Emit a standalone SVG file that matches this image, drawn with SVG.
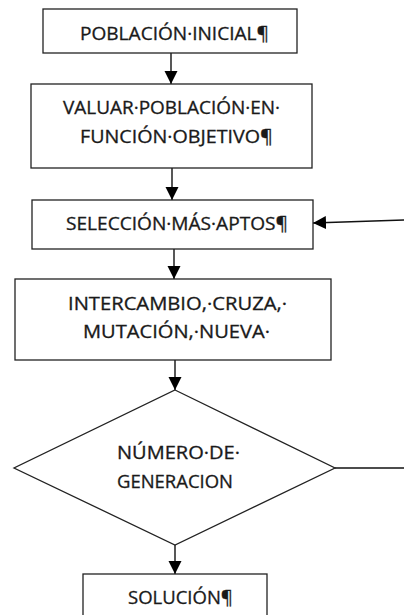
<svg xmlns="http://www.w3.org/2000/svg" width="404" height="615" viewBox="0 0 404 615">
<style>
.box{fill:#fff;stroke:#222;stroke-width:1.3}
.t{font-family:"Open Sans","Liberation Sans",sans-serif;font-size:17.5px;fill:#1a1a1a;stroke:#1a1a1a;stroke-width:0.3}
.c{fill:none;stroke:#111;stroke-width:1.4}
</style>
<defs>
<marker id="ah" markerUnits="userSpaceOnUse" markerWidth="14" markerHeight="14" refX="13" refY="6.5" orient="auto">
<path d="M0,0 L13,6.5 L0,13 Z" fill="#000"/>
</marker>
</defs>
<rect width="404" height="615" fill="#fff"/>
<g id="connectors">
<line class="c" x1="171" y1="53" x2="171" y2="84" marker-end="url(#ah)"/>
<line class="c" x1="172" y1="168" x2="172" y2="200" marker-end="url(#ah)"/>
<line class="c" x1="174" y1="249" x2="174" y2="279" marker-end="url(#ah)"/>
<line class="c" x1="175" y1="360" x2="175" y2="390" marker-end="url(#ah)"/>
<line class="c" x1="175" y1="545" x2="175" y2="574" marker-end="url(#ah)"/>
<line class="c" x1="335" y1="468" x2="404" y2="468"/>
<line class="c" x1="404" y1="220" x2="313" y2="223" marker-end="url(#ah)"/>
</g>
<g id="n1">
<rect class="box" x="43" y="9" width="254" height="44"/>
<text class="t" x="80" y="40" textLength="189" lengthAdjust="spacingAndGlyphs">POBLACIÓN·INICIAL¶</text>
</g>
<g id="n2">
<rect class="box" x="31" y="84" width="281" height="84"/>
<text class="t" x="63" y="114" textLength="217" lengthAdjust="spacingAndGlyphs">VALUAR·POBLACIÓN·EN·</text>
<text class="t" x="80" y="143" textLength="193" lengthAdjust="spacingAndGlyphs">FUNCIÓN·OBJETIVO¶</text>
</g>
<g id="n3">
<rect class="box" x="32" y="200" width="281" height="49"/>
<text class="t" x="66" y="230" textLength="222" lengthAdjust="spacingAndGlyphs">SELECCIÓN·MÁS·APTOS¶</text>
</g>
<g id="n4">
<rect class="box" x="15" y="279" width="316" height="81"/>
<text class="t" x="68" y="310" textLength="219" lengthAdjust="spacingAndGlyphs">INTERCAMBIO,·CRUZA,·</text>
<text class="t" x="83" y="338" textLength="187" lengthAdjust="spacingAndGlyphs">MUTACIÓN,·NUEVA·</text>
</g>
<g id="n5">
<polygon class="box" points="175,390 335,468 175,545 14,468"/>
<text class="t" x="117" y="459" textLength="123" lengthAdjust="spacingAndGlyphs">NÚMERO·DE·</text>
<text class="t" x="117" y="488" textLength="116" lengthAdjust="spacingAndGlyphs">GENERACION</text>
</g>
<g id="n6">
<rect class="box" x="83" y="574" width="184" height="60"/>
<text class="t" x="128" y="604" textLength="105" lengthAdjust="spacingAndGlyphs">SOLUCIÓN¶</text>
</g>
</svg>
